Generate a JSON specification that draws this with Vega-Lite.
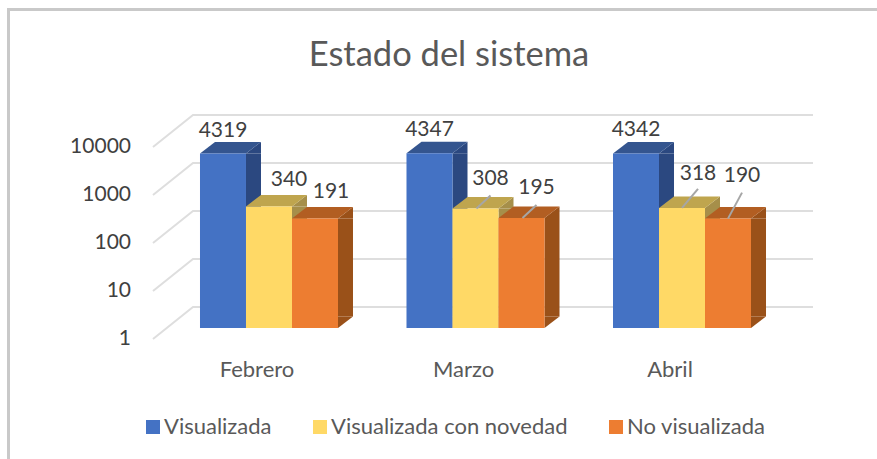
{"$schema":"https://vega.github.io/schema/vega-lite/v6.json","width":900,"height":480,"autosize":"none","padding":{"left":8.5,"top":9.5,"right":0,"bottom":0},"background":"#ffffff","config":{"view":{"stroke":"#C9C9C9","strokeWidth":3},"font":"Lato"},"title":{"text":"Estado del sistema","anchor":"middle","frame":"group","dx":-9.5,"offset":-63.5,"fontSize":34.5,"font":"Lato","fontWeight":"normal","color":"#595959"},"datasets":{"bars":[{"mes":"Febrero","serie":"Visualizada","valor":4319},{"mes":"Febrero","serie":"Visualizada con novedad","valor":340},{"mes":"Febrero","serie":"No visualizada","valor":191},{"mes":"Marzo","serie":"Visualizada","valor":4347},{"mes":"Marzo","serie":"Visualizada con novedad","valor":308},{"mes":"Marzo","serie":"No visualizada","valor":195},{"mes":"Abril","serie":"Visualizada","valor":4342},{"mes":"Abril","serie":"Visualizada con novedad","valor":318},{"mes":"Abril","serie":"No visualizada","valor":190}],"ticks":[{"t":1},{"t":10},{"t":100},{"t":1000},{"t":10000}]},"resolve":{"scale":{"color":"independent"}},"layer":[
{"data":{"name":"ticks"},"mark":{"type":"point","shape":"M-322.5,11 L-282.5,-21 L337.5,-21","size":4,"filled":false,"stroke":"#DEDEDE","strokeWidth":2,"opacity":1},"encoding":{"x":{"datum":"Marzo","type":"nominal","scale":{"domain":["Febrero","Marzo","Abril"],"range":[157.25,776.75],"paddingInner":0.3317,"paddingOuter":0.1658},"axis":{"title":null,"domain":false,"ticks":false,"labelAngle":0,"labelFontSize":22,"labelColor":"#595959","labelOffset":-12,"offset":-120.5,"labelPadding":0,"labelBaseline":"middle","labelFont":"Lato"}},"y":{"field":"t","type":"quantitative","scale":{"type":"log","domain":[1,10000],"range":[318.5,126.5],"nice":false},"axis":{"title":null,"values":[1,10,100,1000,10000],"format":"d","grid":false,"domain":false,"ticks":false,"labelFontSize":21,"labelColor":"#404040","labelOffset":10,"offset":-122,"labelPadding":0,"labelFont":"Lato"}}}},
{"data":{"name":"bars"},"transform":[{"filter":"datum.serie=='Visualizada'"}],"mark":{"type":"bar","width":15,"xOffset":-15.5,"y2Offset":-11.5,"color":"#2B4880"},"encoding":{"x":{"field":"mes","type":"nominal"},"y":{"field":"valor","type":"quantitative","stack":null},"y2":{"datum":1}}},
{"data":{"name":"bars"},"transform":[{"filter":"datum.serie=='Visualizada con novedad'"}],"mark":{"type":"bar","width":15,"xOffset":30.5,"y2Offset":-11.5,"color":"#A68F4A"},"encoding":{"x":{"field":"mes","type":"nominal"},"y":{"field":"valor","type":"quantitative","stack":null},"y2":{"datum":1}}},
{"data":{"name":"bars"},"transform":[{"filter":"datum.serie=='No visualizada'"}],"mark":{"type":"bar","width":15,"xOffset":76.5,"y2Offset":-11.5,"color":"#9A5119"},"encoding":{"x":{"field":"mes","type":"nominal"},"y":{"field":"valor","type":"quantitative","stack":null},"y2":{"datum":1}}},
{"data":{"name":"bars"},"mark":{"type":"point","shape":"M23,0 L38,-11.5 L38,0 Z","size":4,"filled":true,"opacity":1},"encoding":{"x":{"field":"mes","type":"nominal"},"xOffset":{"field":"serie","type":"nominal","scale":{"domain":["Visualizada","Visualizada con novedad","No visualizada"]}},"y":{"field":"valor","type":"quantitative"},"color":{"field":"serie","type":"nominal","legend":null,"scale":{"domain":["Visualizada","Visualizada con novedad","No visualizada"],"range":["#2B4880","#A68F4A","#9A5119"]}}}},
{"data":{"name":"bars"},"mark":{"type":"point","shape":"M23,-11.5 L38,-11.5 L23,0 Z","size":4,"filled":true,"opacity":1},"encoding":{"x":{"field":"mes","type":"nominal"},"xOffset":{"field":"serie","type":"nominal"},"y":{"datum":1,"type":"quantitative"},"color":{"field":"serie","type":"nominal","legend":null,"scale":{"domain":["Visualizada","Visualizada con novedad","No visualizada"],"range":["#2B4880","#A68F4A","#9A5119"]}}}},
{"data":{"name":"bars"},"mark":{"type":"point","shape":"M-23,0 L23,0 L38,-11.5 L-8,-11.5 Z","size":4,"filled":true,"opacity":1},"encoding":{"x":{"field":"mes","type":"nominal"},"xOffset":{"field":"serie","type":"nominal"},"y":{"field":"valor","type":"quantitative"},"color":{"field":"serie","type":"nominal","legend":null,"scale":{"domain":["Visualizada","Visualizada con novedad","No visualizada"],"range":["#34558F","#BFA54E","#B25E22"]}}}},
{"data":{"name":"bars"},"mark":{"type":"bar"},"encoding":{"x":{"field":"mes","type":"nominal"},"xOffset":{"field":"serie","type":"nominal"},"y":{"field":"valor","type":"quantitative","stack":null},"y2":{"datum":1},"color":{"field":"serie","type":"nominal","scale":{"domain":["Visualizada","Visualizada con novedad","No visualizada"],"range":["#4472C4","#FFD966","#ED7D31"]},"legend":{"title":null,"orient":"none","legendX":133.5,"legendY":406.5,"direction":"horizontal","symbolType":"square","symbolSize":196,"symbolStrokeWidth":0,"labelFontSize":22,"labelLimit":400,"labelColor":"#595959","labelFont":"Lato","columnPadding":37,"labelOffset":0,"symbolOpacity":1}}}},
{"data":{"name":"bars"},"transform":[{"filter":"datum.mes=='Marzo' && datum.serie!='Visualizada'"}],"mark":{"type":"point","shape":"M1,0 L15,-13","size":4,"filled":false,"stroke":"#A6A6A6","strokeWidth":2,"opacity":1},"encoding":{"x":{"field":"mes","type":"nominal"},"xOffset":{"field":"serie","type":"nominal"},"y":{"field":"valor","type":"quantitative"}}},
{"data":{"name":"bars"},"transform":[{"filter":"datum.mes=='Abril' && datum.valor==318"}],"mark":{"type":"point","shape":"M0,0 L16,-19","size":4,"filled":false,"stroke":"#A6A6A6","strokeWidth":2,"opacity":1},"encoding":{"x":{"field":"mes","type":"nominal"},"xOffset":{"field":"serie","type":"nominal"},"y":{"field":"valor","type":"quantitative"}}},
{"data":{"name":"bars"},"transform":[{"filter":"datum.mes=='Abril' && datum.valor==190"}],"mark":{"type":"point","shape":"M0,0 L14,-26","size":4,"filled":false,"stroke":"#A6A6A6","strokeWidth":2,"opacity":1},"encoding":{"x":{"field":"mes","type":"nominal"},"xOffset":{"field":"serie","type":"nominal"},"y":{"field":"valor","type":"quantitative"}}},
{"data":{"name":"bars"},"transform":[{"filter":"datum.serie=='Visualizada'"}],"mark":{"type":"text","fontSize":21,"font":"Lato","color":"#404040","dy":-23},"encoding":{"x":{"field":"mes","type":"nominal"},"xOffset":{"field":"serie","type":"nominal"},"y":{"field":"valor","type":"quantitative"},"text":{"field":"valor","type":"quantitative","format":"d"}}},
{"data":{"name":"bars"},"transform":[{"filter":"datum.valor==340"}],"mark":{"type":"text","fontSize":21,"font":"Lato","color":"#404040","dx":20,"dy":-26},"encoding":{"x":{"field":"mes","type":"nominal"},"xOffset":{"field":"serie","type":"nominal"},"y":{"field":"valor","type":"quantitative"},"text":{"field":"valor","type":"quantitative","format":"d"}}},
{"data":{"name":"bars"},"transform":[{"filter":"datum.valor==191"}],"mark":{"type":"text","fontSize":21,"font":"Lato","color":"#404040","dx":16,"dy":-27},"encoding":{"x":{"field":"mes","type":"nominal"},"xOffset":{"field":"serie","type":"nominal"},"y":{"field":"valor","type":"quantitative"},"text":{"field":"valor","type":"quantitative","format":"d"}}},
{"data":{"name":"bars"},"transform":[{"filter":"datum.valor==308 || datum.valor==195"}],"mark":{"type":"text","fontSize":21,"font":"Lato","color":"#404040","dx":15,"dy":-30},"encoding":{"x":{"field":"mes","type":"nominal"},"xOffset":{"field":"serie","type":"nominal"},"y":{"field":"valor","type":"quantitative"},"text":{"field":"valor","type":"quantitative","format":"d"}}},
{"data":{"name":"bars"},"transform":[{"filter":"datum.valor==318"}],"mark":{"type":"text","fontSize":21,"font":"Lato","color":"#404040","dx":16,"dy":-34},"encoding":{"x":{"field":"mes","type":"nominal"},"xOffset":{"field":"serie","type":"nominal"},"y":{"field":"valor","type":"quantitative"},"text":{"field":"valor","type":"quantitative","format":"d"}}},
{"data":{"name":"bars"},"transform":[{"filter":"datum.valor==190"}],"mark":{"type":"text","fontSize":21,"font":"Lato","color":"#404040","dx":14,"dy":-43},"encoding":{"x":{"field":"mes","type":"nominal"},"xOffset":{"field":"serie","type":"nominal"},"y":{"field":"valor","type":"quantitative"},"text":{"field":"valor","type":"quantitative","format":"d"}}}
]}
